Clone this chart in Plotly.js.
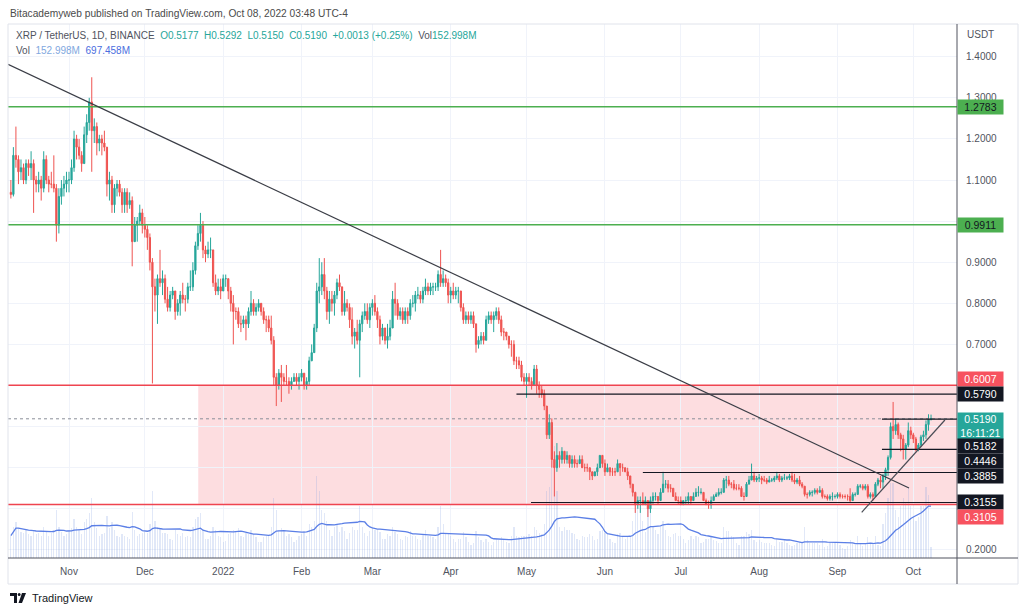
<!DOCTYPE html>
<html><head><meta charset="utf-8">
<script src="https://cdn.plot.ly/plotly-3.0.1.min.js"></script>
<style>html,body{margin:0;padding:0;background:#fff;}#chart{width:1024px;height:613px;}</style>
</head><body><div id="chart"></div>
<script>
// ---------- DATA (daily XRP/USDT, 2021-10-09 .. 2022-10-08) ----------
const startDate = [2021, 9, 9];
const firstOpen = 1.07;
const close = [
// Oct 2021
1.065,1.16,1.15,1.12,1.13,1.10,1.14,1.13,1.14,1.10,1.09,1.10,1.08,1.15,1.10,1.09,1.09,1.08,0.99,1.06,1.08,1.09,1.10,
// Nov
1.10,1.13,1.20,1.18,1.16,1.14,1.21,1.24,1.29,1.22,1.23,1.19,1.20,1.19,1.18,1.09,1.10,1.04,1.08,1.09,1.07,1.04,1.07,1.04,1.05,0.95,0.99,1.00,1.02,0.99,
// Dec
0.98,0.96,0.90,0.84,0.82,0.86,0.85,0.86,0.81,0.79,0.82,0.83,0.78,0.80,0.82,0.81,0.81,0.84,0.84,0.88,0.94,0.97,0.99,0.93,0.92,0.93,0.93,0.85,0.83,0.84,0.83,
// Jan 2022
0.86,0.86,0.83,0.80,0.78,0.78,0.75,0.75,0.76,0.75,0.78,0.80,0.78,0.79,0.80,0.78,0.76,0.76,0.74,0.71,0.62,0.60,0.63,0.62,0.61,0.61,0.60,0.61,0.62,0.61,0.62,
// Feb
0.63,0.60,0.61,0.66,0.68,0.74,0.83,0.84,0.87,0.83,0.78,0.81,0.80,0.82,0.85,0.84,0.78,0.80,0.79,0.76,0.72,0.73,0.71,0.75,0.77,0.78,0.76,0.79,
// Mar
0.80,0.78,0.76,0.72,0.74,0.71,0.72,0.74,0.81,0.80,0.77,0.78,0.76,0.78,0.77,0.80,0.80,0.82,0.82,0.81,0.83,0.84,0.83,0.84,0.84,0.84,0.87,0.85,0.86,0.85,0.82,
// Apr
0.83,0.82,0.83,0.83,0.79,0.76,0.77,0.76,0.77,0.75,0.70,0.71,0.72,0.71,0.76,0.77,0.76,0.77,0.78,0.76,0.73,0.73,0.72,0.70,0.70,0.66,0.66,0.65,0.62,0.61,
// May
0.62,0.61,0.60,0.64,0.60,0.59,0.58,0.55,0.48,0.51,0.42,0.40,0.43,0.42,0.44,0.42,0.43,0.41,0.42,0.41,0.41,0.42,0.40,0.40,0.40,0.39,0.38,0.39,0.40,0.43,0.41,
// Jun
0.39,0.40,0.39,0.39,0.39,0.41,0.40,0.40,0.39,0.38,0.36,0.34,0.31,0.32,0.32,0.31,0.32,0.30,0.32,0.33,0.33,0.32,0.34,0.36,0.36,0.35,0.35,0.33,0.32,0.32,
// Jul
0.31,0.32,0.32,0.33,0.32,0.33,0.34,0.34,0.34,0.32,0.31,0.31,0.32,0.33,0.335,0.34,0.34,0.37,0.37,0.36,0.36,0.35,0.35,0.35,0.33,0.33,0.36,0.37,0.38,0.37,0.375,
// Aug
0.375,0.37,0.37,0.365,0.37,0.37,0.375,0.38,0.37,0.375,0.375,0.375,0.38,0.37,0.365,0.37,0.36,0.355,0.335,0.335,0.34,0.34,0.345,0.34,0.345,0.33,0.33,0.325,0.33,0.33,0.33,
// Sep
0.335,0.33,0.33,0.33,0.33,0.32,0.335,0.335,0.355,0.355,0.35,0.355,0.33,0.335,0.33,0.36,0.37,0.365,0.38,0.395,0.425,0.50,0.49,0.505,0.48,0.47,0.445,0.455,0.49,0.48,
// Oct 2022
0.47,0.445,0.455,0.475,0.48,0.505,0.5177,0.5190];
const high = [
1.10,1.18,1.23,1.16,1.15,1.14,1.15,1.15,1.17,1.15,1.11,1.12,1.11,1.17,1.16,1.11,1.12,1.16,1.09,1.08,1.10,1.11,1.12,
1.12,1.15,1.22,1.21,1.20,1.17,1.23,1.26,1.30,1.35,1.25,1.24,1.21,1.21,1.22,1.18,1.12,1.11,1.09,1.10,1.10,1.08,1.08,1.08,1.07,1.06,1.01,1.01,1.04,1.03,
1.01,0.99,0.97,0.91,0.86,0.87,0.93,0.88,0.87,0.84,0.83,0.84,0.83,0.81,0.83,0.85,0.82,0.85,0.88,0.90,0.95,0.99,1.02,1.00,0.94,0.95,0.96,0.93,0.87,0.86,0.86,
0.87,0.87,0.86,0.84,0.82,0.79,0.79,0.77,0.77,0.77,0.79,0.83,0.81,0.80,0.81,0.80,0.79,0.77,0.77,0.77,0.72,0.63,0.64,0.65,0.63,0.65,0.62,0.62,0.63,0.63,0.63,
0.64,0.63,0.62,0.67,0.70,0.75,0.85,0.91,0.90,0.91,0.84,0.83,0.83,0.83,0.86,0.87,0.84,0.83,0.81,0.80,0.79,0.74,0.76,0.76,0.78,0.80,0.80,0.80,
0.81,0.82,0.79,0.77,0.75,0.74,0.75,0.76,0.83,0.85,0.81,0.79,0.79,0.79,0.79,0.81,0.82,0.83,0.84,0.83,0.84,0.86,0.85,0.85,0.85,0.85,0.88,0.93,0.88,0.87,0.86,
0.84,0.85,0.84,0.84,0.83,0.80,0.78,0.78,0.78,0.78,0.75,0.72,0.73,0.73,0.77,0.78,0.78,0.78,0.79,0.79,0.77,0.74,0.73,0.72,0.71,0.71,0.67,0.67,0.66,0.63,
0.63,0.63,0.62,0.65,0.65,0.61,0.60,0.59,0.55,0.53,0.52,0.44,0.46,0.44,0.45,0.44,0.44,0.43,0.43,0.43,0.42,0.43,0.43,0.41,0.41,0.40,0.39,0.39,0.41,0.43,0.43,
0.42,0.41,0.40,0.40,0.40,0.42,0.41,0.41,0.40,0.40,0.38,0.36,0.34,0.33,0.33,0.34,0.33,0.32,0.33,0.34,0.34,0.33,0.35,0.39,0.37,0.37,0.36,0.35,0.34,0.33,
0.33,0.32,0.33,0.34,0.33,0.34,0.35,0.355,0.35,0.34,0.325,0.32,0.33,0.335,0.34,0.35,0.35,0.375,0.38,0.38,0.365,0.37,0.36,0.36,0.355,0.34,0.365,0.38,0.41,0.39,0.38,
0.385,0.38,0.38,0.375,0.38,0.375,0.38,0.39,0.385,0.38,0.385,0.38,0.385,0.39,0.385,0.375,0.38,0.365,0.355,0.34,0.345,0.345,0.35,0.35,0.355,0.35,0.335,0.335,0.335,0.34,0.335,
0.34,0.34,0.335,0.335,0.335,0.35,0.34,0.34,0.36,0.36,0.36,0.36,0.36,0.34,0.34,0.365,0.375,0.38,0.385,0.40,0.43,0.51,0.56,0.52,0.51,0.485,0.48,0.46,0.51,0.50,
0.485,0.475,0.46,0.48,0.49,0.515,0.53,0.5292];
const low = [
1.055,1.06,1.13,1.09,1.10,1.09,1.09,1.11,1.10,1.02,1.07,1.07,1.05,1.07,1.09,1.07,1.08,1.07,0.95,0.97,1.04,1.06,1.07,
1.07,1.09,1.12,1.15,1.15,1.12,1.14,1.19,1.22,1.12,1.19,1.16,1.17,1.16,1.17,1.06,1.05,1.02,1.02,1.06,1.06,1.02,1.02,1.02,1.03,0.89,0.95,0.95,0.99,0.97,
0.96,0.93,0.88,0.605,0.78,0.75,0.84,0.82,0.80,0.78,0.78,0.81,0.76,0.77,0.77,0.80,0.78,0.80,0.83,0.83,0.87,0.93,0.95,0.91,0.90,0.91,0.91,0.84,0.82,0.82,0.81,
0.83,0.84,0.81,0.78,0.70,0.76,0.74,0.73,0.74,0.71,0.74,0.77,0.77,0.77,0.78,0.77,0.75,0.73,0.73,0.70,0.60,0.55,0.59,0.56,0.60,0.60,0.58,0.59,0.61,0.60,0.59,
0.61,0.59,0.59,0.60,0.66,0.68,0.73,0.80,0.82,0.81,0.76,0.75,0.78,0.77,0.81,0.83,0.77,0.77,0.78,0.74,0.70,0.69,0.70,0.62,0.73,0.76,0.75,0.74,
0.77,0.77,0.74,0.70,0.71,0.70,0.69,0.71,0.74,0.77,0.76,0.76,0.75,0.75,0.75,0.76,0.79,0.78,0.81,0.80,0.80,0.82,0.82,0.82,0.82,0.83,0.83,0.84,0.84,0.84,0.80,
0.80,0.81,0.81,0.80,0.78,0.75,0.75,0.75,0.75,0.74,0.68,0.69,0.70,0.70,0.71,0.75,0.75,0.73,0.76,0.75,0.72,0.71,0.71,0.69,0.67,0.65,0.64,0.64,0.61,0.60,
0.57,0.60,0.59,0.60,0.58,0.57,0.57,0.54,0.47,0.47,0.40,0.33,0.39,0.40,0.41,0.41,0.41,0.40,0.40,0.40,0.40,0.41,0.40,0.39,0.39,0.37,0.37,0.38,0.38,0.40,0.40,
0.38,0.39,0.38,0.38,0.38,0.39,0.38,0.39,0.39,0.37,0.35,0.33,0.29,0.30,0.29,0.31,0.31,0.28,0.29,0.31,0.32,0.31,0.32,0.34,0.35,0.34,0.34,0.33,0.32,0.31,
0.31,0.31,0.31,0.31,0.31,0.32,0.33,0.33,0.335,0.32,0.31,0.30,0.30,0.32,0.33,0.33,0.335,0.34,0.35,0.355,0.35,0.345,0.345,0.345,0.33,0.32,0.33,0.36,0.37,0.365,0.365,
0.365,0.36,0.365,0.36,0.365,0.365,0.365,0.37,0.365,0.365,0.37,0.37,0.37,0.365,0.36,0.36,0.355,0.35,0.33,0.325,0.33,0.33,0.335,0.335,0.34,0.325,0.325,0.32,0.32,0.32,0.325,
0.325,0.325,0.325,0.325,0.32,0.315,0.32,0.33,0.335,0.35,0.345,0.345,0.325,0.325,0.32,0.33,0.355,0.35,0.35,0.37,0.38,0.42,0.47,0.48,0.47,0.44,0.42,0.42,0.45,0.47,
0.46,0.44,0.44,0.45,0.465,0.47,0.49,0.515];
// volume in millions of XRP
const volume = [
300,420,480,400,350,330,380,320,300,380,320,330,300,420,350,300,330,380,650,420,350,300,320,
380,400,520,420,380,320,480,520,600,800,480,400,300,320,340,560,400,480,380,300,280,320,300,280,260,620,380,300,320,340,
350,340,450,900,500,420,400,330,330,320,260,240,380,320,300,330,280,300,280,420,520,550,600,380,260,260,300,420,380,300,280,
220,230,320,330,380,360,400,300,280,340,320,380,320,280,220,220,280,300,310,420,800,650,380,400,360,300,320,280,220,240,300,
320,360,300,460,420,500,1100,900,650,600,500,380,300,420,450,350,420,360,260,330,420,380,380,700,420,340,300,360,
420,380,380,350,250,260,320,300,420,350,320,260,240,300,280,360,300,300,260,240,320,380,300,300,280,260,420,700,450,320,330,
300,260,220,260,260,350,280,220,180,200,360,280,240,220,260,220,180,220,260,240,280,240,220,200,300,420,300,280,300,300,
300,320,300,420,380,340,320,450,900,950,1300,1500,900,420,360,420,380,380,340,320,260,240,300,280,280,320,300,240,260,360,380,
340,320,260,220,200,320,330,280,260,280,300,500,900,700,600,500,350,700,650,420,380,320,420,500,380,300,280,320,340,300,
300,250,200,240,300,260,300,280,200,220,260,250,280,240,230,200,200,420,360,360,300,280,200,180,300,300,350,320,380,240,220,
240,220,200,200,200,180,160,260,220,220,240,200,180,160,180,200,220,200,420,240,200,200,200,200,180,260,150,160,220,220,200,
200,180,130,120,160,240,200,180,300,200,160,200,280,200,180,300,180,160,450,600,800,1000,1000,650,550,700,800,750,950,700,
550,500,550,700,700,950,850,152.998];
const maLength = 20;

const monthTicks = ['2021-11-01','2021-12-01','2022-01-01','2022-02-01','2022-03-01','2022-04-01','2022-05-01','2022-06-01','2022-07-01','2022-08-01','2022-09-01','2022-10-01'];
const monthLabels = ['Nov','Dec','2022','Feb','Mar','Apr','May','Jun','Jul','Aug','Sep','Oct'];
const priceTicks = [0.2,0.3,0.4,0.5,0.6,0.7,0.8,0.9,1.0,1.1,1.2,1.3,1.4];
const priceTickLabels = ['0.2000','','','','','0.7000','0.8000','0.9000','','1.1000','1.2000','1.3000','1.4000'];

const greenLevels = [1.2783, 0.9911];
const redLevels = [0.6007, 0.3105];
const zoneStart = '2021-12-22 03:00';
const blackRayPrices = [0.5790, 0.3155, 0.3885, 0.5182, 0.4446];
const blackRayStarts = ['2022-04-27 00:00','2022-05-02 18:00','2022-06-16 00:00','2022-09-18 14:00','2022-09-18 14:00'];
const downTrend = {x: ['2021-10-07 21:00','2022-09-29 06:40'], y: [1.3813, 0.3506]};
const upTrend = {x: ['2022-09-10 13:40','2022-10-13 12:00'], y: [0.2915, 0.5161]};
const lastPrice = 0.5190;

// ---------- BUILD ----------
const dates = close.map((_, i) => {
  const d = new Date(Date.UTC(startDate[0], startDate[1], startDate[2] + i));
  return d.toISOString().slice(0, 10);
});
const open = close.map((c, i) => i === 0 ? firstOpen : close[i - 1]);
const volMA = volume.map((v, i) => {
  const s = Math.max(0, i - maLength + 1);
  const w = volume.slice(s, i + 1);
  return w.reduce((a, b) => a + b, 0) / w.length;
});

const xRange = ['2021-10-07 20:53', '2022-10-18 06:29'];
const L = 8, R = 67, T = 24, B = 55, W = 1024, H = 613;
const PW = W - L - R, PH = H - T - B;
const px = x => (x - L) / PW;
const py = y => (H - B - y) / PH;

const traces = [
  {type: 'bar', x: dates, y: volume, yaxis: 'y', xaxis: 'x',
   marker: {color: 'rgba(130,160,225,0.24)', line: {width: 0}},
   width: 0.5 * 86400000, hoverinfo: 'skip', showlegend: false},
  {type: 'scatter', mode: 'lines', x: dates, y: volMA, yaxis: 'y',
   line: {color: '#5b7fe6', width: 1.3}, hoverinfo: 'skip', showlegend: false},
  {type: 'candlestick', x: dates, open: open, high: high, low: low, close: close, yaxis: 'y2',
   increasing: {line: {color: '#26a69a', width: 1}, fillcolor: '#26a69a'},
   decreasing: {line: {color: '#ef5350', width: 1}, fillcolor: '#ef5350'},
   whiskerwidth: 0, hoverinfo: 'skip', showlegend: false}
];

const shapes = [];
shapes.push({type: 'rect', xref: 'x', yref: 'y2', x0: zoneStart, x1: xRange[1], y0: redLevels[1], y1: redLevels[0],
  fillcolor: 'rgba(242,54,69,0.17)', line: {width: 0}, layer: 'below'});
shapes.push({type: 'line', xref: 'paper', yref: 'y2', x0: 0, x1: 1, y0: lastPrice, y1: lastPrice,
  line: {color: '#8a8f99', width: 1, dash: 'dot'}});
greenLevels.forEach(p => shapes.push({type: 'line', xref: 'paper', yref: 'y2', x0: 0, x1: 1, y0: p, y1: p,
  line: {color: '#4caf50', width: 1.6}}));
redLevels.forEach(p => shapes.push({type: 'line', xref: 'paper', yref: 'y2', x0: 0, x1: 1, y0: p, y1: p,
  line: {color: '#ef4450', width: 1.6}}));
blackRayPrices.forEach((p, i) => shapes.push({type: 'line', xref: 'x', yref: 'y2', x0: blackRayStarts[i], x1: xRange[1], y0: p, y1: p,
  line: {color: '#131722', width: 1.1}}));
shapes.push({type: 'line', xref: 'x', yref: 'y2', x0: downTrend.x[0], x1: downTrend.x[1], y0: downTrend.y[0], y1: downTrend.y[1],
  line: {color: '#3a3d46', width: 1.2}});
shapes.push({type: 'line', xref: 'x', yref: 'y2', x0: upTrend.x[0], x1: upTrend.x[1], y0: upTrend.y[0], y1: upTrend.y[1],
  line: {color: '#4a4d56', width: 1.2}});
// frame / separators
shapes.push({type: 'rect', xref: 'paper', yref: 'paper', x0: px(8), x1: px(1018), y0: py(584), y1: py(24),
  line: {color: '#e0e3eb', width: 1}, fillcolor: 'rgba(0,0,0,0)'});
shapes.push({type: 'line', xref: 'paper', yref: 'paper', x0: px(8), x1: px(1018), y0: py(558), y1: py(558),
  line: {color: '#50535e', width: 1}});
shapes.push({type: 'line', xref: 'paper', yref: 'paper', x0: px(957), x1: px(957), y0: py(584), y1: py(24),
  line: {color: '#50535e', width: 1}});
// TradingView logo
shapes.push({type: 'path', xref: 'paper', yref: 'paper', fillcolor: '#131722', line: {width: 0},
  path: `M${px(10)},${py(593)} L${px(17)},${py(593)} L${px(17)},${py(603)} L${px(14)},${py(603)} L${px(14)},${py(596)} L${px(10)},${py(596)} Z`});
shapes.push({type: 'circle', xref: 'paper', yref: 'paper', fillcolor: '#131722', line: {width: 0},
  x0: px(17.8), x1: px(20.6), y0: py(596), y1: py(593)});
shapes.push({type: 'path', xref: 'paper', yref: 'paper', fillcolor: '#131722', line: {width: 0},
  path: `M${px(22)},${py(593)} L${px(26)},${py(593)} L${px(22)},${py(603)} L${px(18.5)},${py(603)} Z`});

const FONT = 'Liberation Sans, Arial, sans-serif';
function priceBox(text, price, shift, bg, fg, h) {
  return {xref: 'paper', yref: 'y2', x: 1, y: price, xanchor: 'left', yanchor: 'middle', xshift: 0, yshift: shift,
    text: text, showarrow: false, bgcolor: bg, font: {family: FONT, size: 10.5, color: fg},
    width: 42, height: h || 11, borderpad: 1.5, align: 'center'};
}
const annotations = [
  {xref: 'paper', yref: 'paper', x: px(8), y: py(13), xanchor: 'left', yanchor: 'middle', showarrow: false,
   text: 'Bitacademyweb published on TradingView.com, Oct 08, 2022 03:48 UTC-4', font: {family: FONT, size: 10.2, color: '#4a4a4a'}},
  {xref: 'paper', yref: 'paper', x: px(14), y: py(35), xanchor: 'left', yanchor: 'middle', showarrow: false,
   text: '<span style="color:#50535e">XRP / TetherUS, 1D, BINANCE</span>&nbsp;&nbsp;<span style="color:#26a69a">O0.5177&nbsp;&nbsp;H0.5292&nbsp;&nbsp;L0.5150&nbsp;&nbsp;C0.5190&nbsp;&nbsp;+0.0013 (+0.25%)</span>&nbsp;&nbsp;<span style="color:#50535e">Vol</span><span style="color:#26a69a">152.998M</span>',
   font: {family: FONT, size: 10, color: '#50535e'}},
  {xref: 'paper', yref: 'paper', x: px(14), y: py(50), xanchor: 'left', yanchor: 'middle', showarrow: false,
   text: '<span style="color:#50535e">Vol</span>&nbsp;&nbsp;<span style="color:#7fa8e0">152.998M</span>&nbsp;&nbsp;<span style="color:#4a6ee0">697.458M</span>',
   font: {family: FONT, size: 10, color: '#50535e'}},
  {xref: 'paper', yref: 'paper', x: px(965), y: py(34), xanchor: 'left', yanchor: 'middle', showarrow: false,
   text: 'USDT', font: {family: FONT, size: 10, color: '#50535e'}},
  {xref: 'paper', yref: 'paper', x: px(30), y: py(598), xanchor: 'left', yanchor: 'middle', showarrow: false,
   text: 'TradingView', font: {family: FONT, size: 11, color: '#131722'}},
  priceBox('1.2783', 1.2783, 0, '#4caf50', '#131722'),
  priceBox('0.9911', 0.9911, 0, '#4caf50', '#131722'),
  priceBox('0.6007', 0.6007, 6, '#f7525f', '#ffffff'),
  priceBox('0.5790', 0.5790, 0, '#131722', '#ffffff'),
  {xref: 'paper', yref: 'y2', x: 1, y: lastPrice, xanchor: 'left', yanchor: 'top', yshift: 7,
   text: '0.5190<br>16:11:21', showarrow: false, bgcolor: '#26a69a', font: {family: FONT, size: 10.5, color: '#ffffff'},
   width: 42, height: 23, borderpad: 1.5, align: 'center'},
  priceBox('0.5182', 0.5182, -27, '#131722', '#ffffff'),
  priceBox('0.4446', 0.4446, -12, '#131722', '#ffffff'),
  priceBox('0.3885', 0.3885, -3.5, '#131722', '#ffffff'),
  priceBox('0.3155', 0.3155, 0, '#131722', '#ffffff'),
  priceBox('0.3105', 0.3105, -13, '#f7525f', '#ffffff')
];

const layout = {
  width: W, height: H, margin: {l: L, r: R, t: T, b: B, pad: 0},
  paper_bgcolor: '#ffffff', plot_bgcolor: '#ffffff', showlegend: false,
  font: {family: FONT, size: 10, color: '#50535e'},
  bargap: 0,
  xaxis: {type: 'date', range: xRange, tickvals: monthTicks, ticktext: monthLabels,
    showgrid: true, gridcolor: '#f0f3fa', gridwidth: 1, zeroline: false, showline: false, ticks: '',
    ticklabelstandoff: 6,
    tickfont: {family: FONT, size: 10, color: '#50535e'}, rangeslider: {visible: false}, fixedrange: true},
  yaxis: {range: [0, 7156], visible: false, showgrid: false, zeroline: false, fixedrange: true},
  yaxis2: {overlaying: 'y', side: 'right', range: [0.1803, 1.4796], tickvals: priceTicks,
    ticktext: priceTickLabels, showgrid: true, gridcolor: '#f0f3fa', gridwidth: 1,
    zeroline: false, showline: false, ticks: '', ticklabelstandoff: 8,
    tickfont: {family: FONT, size: 10, color: '#50535e'}, fixedrange: true},
  shapes: shapes, annotations: annotations
};

Plotly.newPlot('chart', traces, layout, {staticPlot: true, displayModeBar: false});
</script></body></html>
